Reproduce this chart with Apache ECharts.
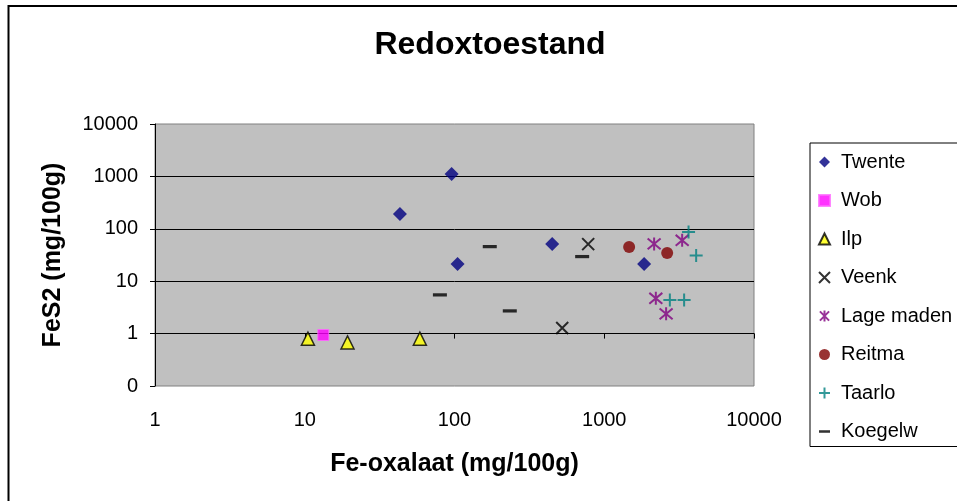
<!DOCTYPE html>
<html>
<head>
<meta charset="utf-8">
<script src="https://cdn.jsdelivr.net/npm/echarts@6/dist/echarts.min.js"></script>
<style>
html,body{margin:0;padding:0;background:#fff;}
#chart{width:957px;height:501px;}
</style>
</head>
<body>
<div id="chart"></div>
<script>
// ---- data (x = Fe-oxalaat, y = FeS2, both mg/100g) ----
const seriesNames = ['Twente', 'Wob', 'Ilp', 'Veenk', 'Lage maden', 'Reitma', 'Taarlo', 'Koegelw'];
const twente = [[43.2, 192], [95.7, 1116], [104.8, 21.4], [449, 51.5], [1847, 21.4]];
const wob = [[13.3, 0.94]];
const ilp = [[10.5, 0.8], [19.3, 0.68], [58.7, 0.8]];
const veenk = [[781, 51], [524, 1.28]];
const lageMaden = [[2153, 51.5], [3313, 60.4], [2210, 4.72], [2589, 2.38]];
const reitma = [[1466, 45], [2631, 34.7]];
const taarlo = [[3656, 87.3], [4109, 30.8], [2742, 4.4], [3415, 4.4]];
const koegelw = [[79.9, 5.48], [172, 45.7], [234, 2.71], [712, 29.5]];
const xTicks = [1, 10, 100, 1000, 10000];
const yTicks = [0.1, 1, 10, 100, 1000, 10000];

const FONT = "'Liberation Sans', Arial, sans-serif";
const chart = echarts.init(document.getElementById('chart'));

const X_PATH = 'path://M0,0L10,10M10,0L0,10';
const PLUS_PATH = 'path://M5,0L5,10M0,5L10,5';
const STAR_PATH = 'path://M0,0L10,10M10,0L0,10M5,-1L5,11';
const DASH_PATH = 'path://M0,0M0,5L13,5L13,8L0,8ZM13,13';

function sc(name, data, symbol, size, itemStyle) {
  return { name, type: 'scatter', data, symbol, symbolSize: size, itemStyle, xAxisIndex: 0, yAxisIndex: 0, z: 5 };
}

const option = {
  animation: false,
  backgroundColor: '#ffffff',
  title: {
    text: 'Redoxtoestand', left: 490, top: 29, padding: 0, textAlign: 'center',
    textStyle: { fontFamily: FONT, fontSize: 32, fontWeight: 'bold', color: '#000' }
  },
  grid: {
    left: 155, top: 124, width: 599, height: 262,
    show: true, backgroundColor: '#C0C0C0', borderColor: '#808080', borderWidth: 1
  },
  legend: {
    orient: 'vertical', left: 810, top: 143,
    padding: [9, 40, 5, 8], itemGap: 18.5, itemWidth: 11, itemHeight: 11,
    borderColor: '#000', borderWidth: 1, backgroundColor: '#fff',
    data: seriesNames,
    textStyle: { fontFamily: FONT, fontSize: 20, color: '#000', padding: [0, 0, 0, 6] }
  },
  xAxis: [
    {
      type: 'log', logBase: 10, min: xTicks[0], max: xTicks[xTicks.length - 1], position: 'bottom',
      name: 'Fe-oxalaat (mg/100g)', nameLocation: 'middle', nameGap: 66,
      nameTextStyle: { fontFamily: FONT, fontSize: 25, fontWeight: 'bold', color: '#000' },
      axisLine: { show: false }, axisTick: { show: false }, splitLine: { show: false },
      axisLabel: { fontFamily: FONT, fontSize: 20, color: '#000', margin: 24, formatter: v => String(Math.round(v)) }
    },
    {
      type: 'log', logBase: 10, min: xTicks[0], max: xTicks[xTicks.length - 1], position: 'bottom', offset: -52.4,
      axisLine: { show: true, lineStyle: { color: '#000', width: 1 } },
      axisTick: { show: true, length: 5, lineStyle: { color: '#000', width: 1 } },
      axisLabel: { show: false }, splitLine: { show: false }
    }
  ],
  yAxis: {
    type: 'log', logBase: 10, min: yTicks[0], max: yTicks[yTicks.length - 1],
    name: 'FeS2 (mg/100g)', nameLocation: 'middle', nameGap: 89.5, nameRotate: 90,
    nameTextStyle: { fontFamily: FONT, fontSize: 25, fontWeight: 'bold', color: '#000' },
    axisLine: { show: true, lineStyle: { color: '#000', width: 1 } },
    axisTick: { show: true, length: 5, lineStyle: { color: '#000', width: 1 } },
    splitLine: { show: true, showMinLine: false, showMaxLine: false, lineStyle: { color: '#000', width: 1 } },
    axisLabel: { fontFamily: FONT, fontSize: 20, color: '#000', margin: 17, formatter: v => v < 1 ? '0' : String(Math.round(v)) }
  },
  series: [
    sc('Twente', twente, 'diamond', 14, { color: '#000080', borderWidth: 0 }),
    sc('Wob', wob, 'rect', 11, { color: '#FF00FF', borderColor: '#FF66FF', borderWidth: 1 }),
    sc('Ilp', ilp, 'triangle', 13, { color: '#FFFF00', borderColor: '#000', borderWidth: 1.5 }),
    sc('Veenk', veenk, X_PATH, 12, { color: '#000', borderColor: '#000', borderWidth: 2 }),
    sc('Lage maden', lageMaden, STAR_PATH, 13, { color: '#800080', borderColor: '#800080', borderWidth: 2 }),
    sc('Reitma', reitma, 'circle', 12, { color: '#800000', borderWidth: 0 }),
    sc('Taarlo', taarlo, PLUS_PATH, 13, { color: '#008080', borderColor: '#008080', borderWidth: 2 }),
    sc('Koegelw', koegelw, DASH_PATH, 14, { color: '#000', borderWidth: 0 })
  ],
  graphic: [
    { type: 'rect', shape: { x: 8.5, y: 6, width: 1000, height: 1000 }, style: { fill: 'none', stroke: '#000', lineWidth: 2 }, silent: true, z: 100 }
  ]
};
chart.setOption(option);
</script>
</body>
</html>
